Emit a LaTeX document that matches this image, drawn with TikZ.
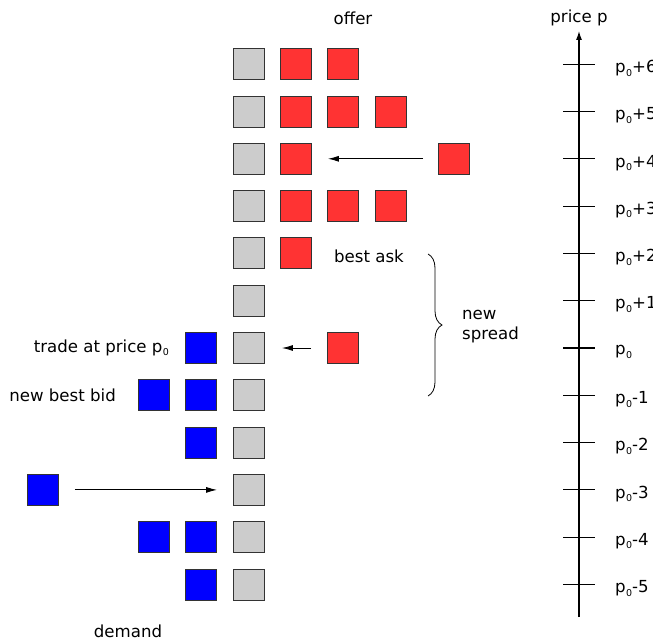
\documentclass[tikz,border=0pt]{standalone}
\usepackage{fontspec}
\setmainfont{DejaVu Sans}
\usetikzlibrary{arrows.meta,decorations.pathreplacing}

\definecolor{sqgrey}{RGB}{204,204,204}
\definecolor{sqred}{RGB}{255,51,51}
\definecolor{sqblue}{RGB}{0,0,255}

% price p_0 with a small lowered index
\newcommand{\pz}{p\kern0.3pt\raisebox{-3.5pt}{\fontsize{9.5}{9.5}\selectfont 0}}

\begin{document}
\begin{tikzpicture}[x=1pt,y=-1pt,
  font=\fontsize{16.6}{20}\selectfont,
  sq/.style={draw=black!80, line width=0.9pt, minimum size=31pt, inner sep=0pt},
  gsq/.style={sq, fill=sqgrey},
  rsq/.style={sq, fill=sqred},
  bsq/.style={sq, fill=sqblue},
  flow/.style={line width=0.9pt, -{Latex[length=11pt,width=6pt]}},
  lbl/.style={inner sep=0pt}
]
\useasboundingbox (0,0) rectangle (653,639);

% order book: one grey square per price level
\foreach \k in {6,5,...,-5}{
  \node[gsq] (g\k) at (249,{348-47.3*\k}) {};
}

% offer side (sell orders)
\node[rsq] (r6a) at (296,{348-47.3*6}) {};
\node[rsq] (r6b) at (343,{348-47.3*6}) {};
\node[rsq] (r5a) at (296,{348-47.3*5}) {};
\node[rsq] (r5b) at (343,{348-47.3*5}) {};
\node[rsq] (r5c) at (391,{348-47.3*5}) {};
\node[rsq] (r4a) at (296,{348-47.3*4}) {};
\node[rsq] (r4new) at (454,{348-47.3*4}) {};
\node[rsq] (r3a) at (296,{348-47.3*3}) {};
\node[rsq] (r3b) at (343,{348-47.3*3}) {};
\node[rsq] (r3c) at (391,{348-47.3*3}) {};
\node[rsq] (r2a) at (296,{348-47.3*2}) {};
\node[rsq] (r0new) at (343,348) {};

% demand side (buy orders)
\node[bsq] (b0a) at (201,348) {};
\node[bsq] (bm1a) at (201,{348+47.3}) {};
\node[bsq] (bm1b) at (154,{348+47.3}) {};
\node[bsq] (bm2a) at (201,{348+47.3*2}) {};
\node[bsq] (bm3new) at (43,{348+47.3*3}) {};
\node[bsq] (bm4a) at (201,{348+47.3*4}) {};
\node[bsq] (bm4b) at (154,{348+47.3*4}) {};
\node[bsq] (bm5a) at (201,{348+47.3*5}) {};

% incoming orders
\draw[flow, shorten <=15pt, shorten >=16pt] (r4new.west) -- (r4a.east);
\draw[flow, shorten <=16pt, shorten >=17pt] (r0new.west) -- (g0.east);
\draw[flow, shorten <=16pt, shorten >=16pt] (bm3new.east) -- (g-3.west);

% labels
\node[lbl] (offer) at (353,18) {offer};
\node[lbl] (demand) at (128,631) {demand};
\node[lbl, anchor=west] (bestask) at (334,256) {best ask};
\node[lbl, anchor=east] (trade) at (169,348) {trade at price \pz};
\node[lbl, anchor=east] (newbid) at (116,395) {new best bid};
\node[lbl, anchor=west, align=left] (spread) at (462,326.5) {new\\spread};

% spread brace
\coordinate (bt) at (428,254);
\coordinate (bb) at (428,396);
\draw[line width=0.8pt, decorate, decoration={brace, amplitude=14pt}] (bt) -- (bb);

% price axis
\coordinate (abot) at (579,617);
\coordinate (atop) at (579,31);
\draw[line width=1.1pt, -{Latex[length=9pt,width=6pt]}] (abot) -- (atop);
\node[lbl] (axlabel) at (579,18) {price p};
\foreach \k in {6,5,...,-5}{
  \draw[line width=1.1pt] (563,{348-47.3*\k}) -- (595,{348-47.3*\k});
  \ifnum\k>0
    \node[lbl, anchor=west] (t\k) at (615,{352-47.3*\k}) {\pz+\k};
  \else\ifnum\k=0
    \node[lbl, anchor=west] (t\k) at (615,{352-47.3*\k}) {\pz};
  \else
    \node[lbl, anchor=west] (t\k) at (615,{352-47.3*\k}) {\pz\k};
  \fi\fi
}
\end{tikzpicture}
\end{document}
